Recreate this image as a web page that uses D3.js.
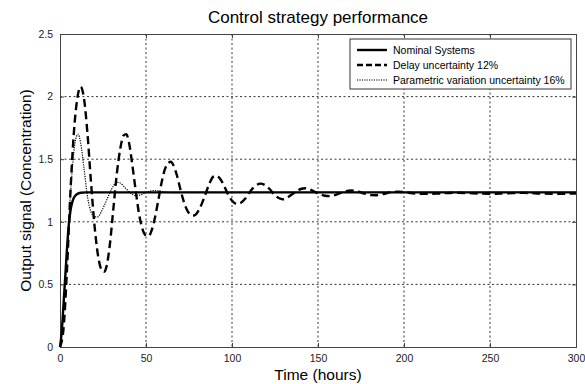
<!DOCTYPE html>
<html>
<head>
<meta charset="utf-8">
<script src="https://cdn.jsdelivr.net/npm/d3@7"></script>
<style>
  body { margin: 0; background: #fff; }
  text { font-family: Arial, "Liberation Sans", sans-serif; }
  .grid line { stroke: #000; stroke-width: 0.8; stroke-dasharray: 2,2.5; }
  .tick text { fill: #222; font-size: 10.5px; }
</style>
</head>
<body>
<div id="chart"></div>
<script>
// hours and output values
var nominalT = [0, 1, 2, 3, 4, 5, 6, 7, 8, 9, 10, 12, 15, 300];
var nominalV = [0, 0.12, 0.33, 0.55, 0.77, 0.96, 1.08, 1.15, 1.19, 1.21, 1.222, 1.232, 1.235, 1.235];

var delayT = [0, 2, 4, 6, 8, 10, 12, 14, 16, 18, 20, 22, 24, 25.5, 27, 29, 31, 33, 35, 37, 38.5, 40, 42, 44, 46, 48, 50, 51.5,
    53, 55, 57, 59, 61, 63, 64.5, 66, 68, 70, 72, 74, 76, 77.5, 79, 81, 84, 87, 89, 90.5, 92, 95, 98, 101, 103, 105,
    108, 111, 114, 116.5, 119, 122, 125, 128, 129.5, 131, 134, 137, 140, 142.5, 145, 148, 151, 154, 156.5, 159, 163,
    166, 169.5, 173, 177, 181, 184, 188, 192, 196, 200, 205, 212, 220, 230, 240, 250, 260, 270, 280, 290, 300];
var delayV = [0, 0.14, 0.6, 1.22, 1.7, 1.98, 2.08, 1.98, 1.7, 1.32, 0.98, 0.74, 0.62, 0.6, 0.64, 0.82, 1.1, 1.38, 1.58, 1.69, 1.7, 1.64, 1.46, 1.25, 1.06, 0.94, 0.89, 0.885,
    0.92, 1.02, 1.16, 1.31, 1.42, 1.47, 1.48, 1.45, 1.37, 1.26, 1.16, 1.09, 1.055, 1.05, 1.06, 1.1, 1.2, 1.31, 1.36, 1.368, 1.36, 1.3, 1.21, 1.155, 1.142, 1.15,
    1.19, 1.25, 1.29, 1.305, 1.295, 1.26, 1.21, 1.185, 1.18, 1.185, 1.21, 1.24, 1.262, 1.268, 1.26, 1.24, 1.22, 1.208, 1.205, 1.21, 1.23,
    1.245, 1.25, 1.243, 1.225, 1.213, 1.212, 1.222, 1.235, 1.24, 1.237, 1.228, 1.223, 1.226, 1.232, 1.228, 1.224, 1.228, 1.231, 1.226, 1.224, 1.226];

var paramT = [0, 2, 4, 6, 8, 9.5, 10.5, 12, 14, 16, 18, 20, 22, 24, 27, 30, 33, 35, 38, 41, 44, 47, 51, 55, 60, 66, 75, 300];
var paramV = [0, 0.3, 0.75, 1.2, 1.55, 1.68, 1.7, 1.63, 1.42, 1.2, 1.08, 1.04, 1.04, 1.08, 1.17, 1.26, 1.315, 1.31, 1.27, 1.23, 1.21, 1.215, 1.24, 1.25, 1.24, 1.232, 1.235, 1.235];

var xTicks = [0, 50, 100, 150, 200, 250, 300];
var yTicks = [0, 0.5, 1, 1.5, 2, 2.5];
var seriesNames = ["Nominal Systems", "Delay uncertainty 12%", "Parametric variation uncertainty 16%"];

var W = 585, H = 384;
var margin = {top: 34, right: 9, bottom: 37, left: 60},
    width = W - margin.left - margin.right,
    height = H - margin.top - margin.bottom;

var svg = d3.select("#chart").append("svg")
    .attr("width", W)
    .attr("height", H);

var g = svg.append("g")
    .attr("transform", "translate(" + margin.left + "," + margin.top + ")");

var x = d3.scaleLinear().domain([0, 300]).range([0, width]);
var y = d3.scaleLinear().domain([0, 2.5]).range([height, 0]);

// grid
g.append("g").attr("class", "grid")
    .selectAll("line").data(xTicks.slice(1, -1)).enter().append("line")
    .attr("x1", function(d) { return x(d); }).attr("x2", function(d) { return x(d); })
    .attr("y1", 0).attr("y2", height);
g.append("g").attr("class", "grid")
    .selectAll("line").data(yTicks.slice(1, -1)).enter().append("line")
    .attr("x1", 0).attr("x2", width)
    .attr("y1", function(d) { return y(d); }).attr("y2", function(d) { return y(d); });

// axes, ticks pointing inwards like matlab
var xAxis = g.append("g")
    .attr("transform", "translate(0," + height + ")")
    .call(d3.axisBottom(x).tickValues(xTicks).tickSize(-4).tickPadding(8));
var yAxis = g.append("g")
    .call(d3.axisLeft(y).tickValues(yTicks).tickSize(-4).tickPadding(7).tickFormat(d3.format("")));
g.append("g")
    .call(d3.axisTop(x).tickValues(xTicks).tickSize(-4).tickFormat(""));
g.append("g")
    .attr("transform", "translate(" + width + ",0)")
    .call(d3.axisRight(y).tickValues(yTicks).tickSize(-4).tickFormat(""));
g.selectAll(".domain").attr("stroke", "#444");
g.selectAll(".tick line").attr("stroke", "#444");

// lines
var line = d3.line()
    .x(function(d) { return x(d[0]); })
    .y(function(d) { return y(d[1]); })
    .curve(d3.curveMonotoneX);

function pairs(t, v) { return t.map(function(d, i) { return [d, v[i]]; }); }

var styles = [
    {width: 2.4, dash: null},
    {width: 2.4, dash: "8,4.5"},
    {width: 1.2, dash: "1.2,1.2"}
];
var data = [pairs(nominalT, nominalV), pairs(delayT, delayV), pairs(paramT, paramV)];

[2, 1, 0].forEach(function(i) {
    g.append("path")
        .datum(data[i])
        .attr("fill", "none")
        .attr("stroke", "#000")
        .attr("stroke-width", styles[i].width)
        .attr("stroke-dasharray", styles[i].dash)
        .attr("d", line);
});

// legend
var leg = svg.append("g").attr("transform", "translate(350,39)");
leg.append("rect")
    .attr("width", 221).attr("height", 50)
    .attr("fill", "#fff").attr("stroke", "#333").attr("stroke-width", 1);
seriesNames.forEach(function(n, i) {
    var ly = 11 + i * 15;
    leg.append("line")
        .attr("x1", 7).attr("x2", 37).attr("y1", ly).attr("y2", ly)
        .attr("stroke", "#000")
        .attr("stroke-width", styles[i].width)
        .attr("stroke-dasharray", i == 1 ? "6,3" : styles[i].dash);
    leg.append("text")
        .attr("x", 43).attr("y", ly + 4)
        .style("font-size", "10.5px")
        .text(n);
});

// titles
svg.append("text")
    .attr("x", margin.left + width / 2).attr("y", 23)
    .attr("text-anchor", "middle")
    .style("font-size", "17px")
    .text("Control strategy performance");
svg.append("text")
    .attr("x", margin.left + width / 2).attr("y", 380)
    .attr("text-anchor", "middle")
    .style("font-size", "15.5px")
    .text("Time (hours)");
svg.append("text")
    .attr("transform", "translate(31," + (margin.top + height / 2) + ") rotate(-90)")
    .attr("text-anchor", "middle")
    .style("font-size", "15.5px")
    .text("Output signal (Concentration)");
</script>
</body>
</html>
